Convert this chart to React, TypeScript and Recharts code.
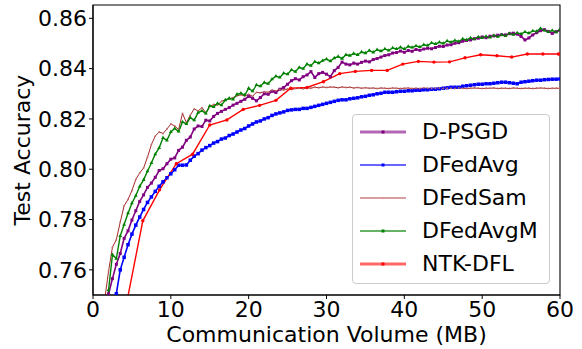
import { LineChart, Line, XAxis, YAxis, Legend, ReferenceArea } from "recharts";

// communication volume (MB) at each logged round
const VOLUME = [
  1.5, 2, 2.5, 3, 3.5, 4, 4.5, 5, 5.5, 6,
  6.5, 7, 7.5, 8, 8.5, 9, 9.5, 10, 10.5, 11,
  11.5, 12, 12.5, 13, 13.5, 14, 14.5, 15, 15.5, 16,
  16.5, 17, 17.5, 18, 18.5, 19, 19.5, 20, 20.5, 21,
  21.5, 22, 22.5, 23, 23.5, 24, 24.5, 25, 25.5, 26,
  26.5, 27, 27.5, 28, 28.5, 29, 29.5, 30, 30.5, 31,
  31.5, 32, 32.5, 33, 33.5, 34, 34.5, 35, 35.5, 36,
  36.5, 37, 37.5, 38, 38.5, 39, 39.5, 40, 40.5, 41,
  41.5, 42, 42.5, 43, 43.5, 44, 44.5, 45, 45.5, 46,
  46.5, 47, 47.5, 48, 48.5, 49, 49.5, 50, 50.5, 51,
  51.5, 52, 52.5, 53, 53.5, 54, 54.5, 55, 55.5, 56,
  56.5, 57, 57.5, 58, 58.5, 59, 59.5, 60,
];

const D_PSGD = [
  0.738, 0.7505, 0.7565, 0.7622, 0.7665, 0.7725, 0.7755, 0.7798, 0.7835, 0.7872,
  0.7898, 0.7928, 0.7945, 0.7968, 0.7995, 0.8002, 0.8022, 0.804, 0.8045, 0.8075,
  0.8088, 0.8115, 0.8128, 0.816, 0.8172, 0.817, 0.8195, 0.8192, 0.821, 0.8222,
  0.823, 0.8238, 0.8245, 0.8255, 0.8262, 0.827, 0.8278, 0.829, 0.8282, 0.8272,
  0.8285, 0.83, 0.8298, 0.831, 0.8305, 0.8318, 0.8325, 0.8338, 0.8352, 0.836,
  0.8355, 0.8368, 0.8375, 0.8388, 0.8365, 0.838, 0.8385, 0.8378, 0.8368, 0.8392,
  0.8405, 0.8426, 0.8418, 0.8415, 0.8422, 0.8418, 0.8425, 0.843, 0.8427, 0.8436,
  0.844, 0.8446, 0.8452, 0.8455, 0.8462, 0.8464, 0.847, 0.8465, 0.8472, 0.8469,
  0.8476, 0.8473, 0.8478, 0.8481, 0.8479, 0.8484, 0.8489, 0.8488, 0.8494, 0.8495,
  0.8501, 0.8503, 0.8509, 0.8512, 0.8514, 0.8519, 0.8521, 0.8526, 0.8523, 0.8529,
  0.853, 0.8533, 0.8535, 0.8534, 0.8539, 0.8541, 0.8537, 0.8528, 0.8514, 0.8522,
  0.8534, 0.8543, 0.8551, 0.8555, 0.8548, 0.854, 0.8547, 0.8553,
];

const DFEDAVG = [
  0.725, 0.732, 0.741, 0.7505, 0.76, 0.765, 0.77, 0.7742, 0.7778, 0.781,
  0.784, 0.7868, 0.789, 0.7912, 0.7932, 0.795, 0.7966, 0.7982, 0.7998, 0.8016,
  0.8016, 0.8017, 0.8036, 0.8052, 0.8062, 0.8076, 0.8086, 0.8094, 0.8104, 0.811,
  0.812, 0.8124, 0.8134, 0.814, 0.8148, 0.8156, 0.8162, 0.8172, 0.818, 0.8188,
  0.8192, 0.82, 0.8205, 0.8214, 0.822, 0.8224, 0.8228, 0.8234, 0.8236, 0.8238,
  0.8238, 0.8242, 0.8242, 0.8246, 0.825, 0.8254, 0.8258, 0.8262, 0.8266, 0.827,
  0.8274, 0.8276, 0.8276, 0.828, 0.8282, 0.8284, 0.8288, 0.829, 0.8294, 0.8296,
  0.83, 0.8302, 0.8306, 0.8306, 0.8306, 0.8308, 0.831, 0.831, 0.8312, 0.8312,
  0.8314, 0.8314, 0.8316, 0.8316, 0.8318, 0.8318, 0.832, 0.8322, 0.8324, 0.8326,
  0.8326, 0.8326, 0.833, 0.8332, 0.8334, 0.8336, 0.8338, 0.8338, 0.834, 0.834,
  0.8342, 0.8344, 0.8346, 0.8346, 0.8344, 0.8342, 0.834, 0.8346, 0.8348, 0.835,
  0.8352, 0.8354, 0.8354, 0.8356, 0.8357, 0.8358, 0.8358, 0.8359,
];

const DFEDSAM = [
  0.748, 0.7595, 0.769, 0.772, 0.779, 0.7855, 0.788, 0.7915, 0.796, 0.7985,
  0.8005, 0.8048, 0.8098, 0.8132, 0.8148, 0.8142, 0.816, 0.818, 0.8172, 0.8158,
  0.8222, 0.8185, 0.8215, 0.824, 0.8232, 0.8245, 0.8225, 0.8248, 0.8258, 0.8255,
  0.827, 0.8276, 0.828, 0.8285, 0.8292, 0.8296, 0.8292, 0.8298, 0.829, 0.8306,
  0.8304, 0.8308, 0.8306, 0.8314, 0.8312, 0.8317, 0.8315, 0.8319, 0.8317, 0.8321,
  0.8322, 0.832, 0.8324, 0.8322, 0.8326, 0.8324, 0.8327, 0.8325, 0.8327, 0.8326,
  0.8324, 0.8327, 0.8325, 0.8326, 0.8323, 0.8325, 0.8322, 0.8324, 0.8322, 0.8323,
  0.8321, 0.8323, 0.8322, 0.8321, 0.8323, 0.8322, 0.8321, 0.8322, 0.8323, 0.8321,
  0.8322, 0.8321, 0.8323, 0.8322, 0.8321, 0.8322, 0.8323, 0.8321, 0.8322, 0.8322,
  0.8321, 0.8323, 0.8322, 0.8321, 0.8322, 0.8323, 0.8322, 0.8321, 0.8322, 0.8322,
  0.8323, 0.8321, 0.8322, 0.8322, 0.8321, 0.8323, 0.8322, 0.8321, 0.8322, 0.8322,
  0.8321, 0.8322, 0.8323, 0.8322, 0.8321, 0.8322, 0.8322, 0.8322,
];

const DFEDAVGM = [
  0.738, 0.752, 0.766, 0.7645, 0.7735, 0.778, 0.7825, 0.7865, 0.7895, 0.7932,
  0.7958, 0.7992, 0.8025, 0.806, 0.8085, 0.8125, 0.8115, 0.8148, 0.8162, 0.815,
  0.8188, 0.818, 0.8205, 0.8195, 0.8225, 0.8232, 0.8222, 0.8252, 0.8248, 0.8262,
  0.8255, 0.8275, 0.8282, 0.8278, 0.8298, 0.8302, 0.8295, 0.8322, 0.831, 0.8335,
  0.833, 0.8345, 0.834, 0.8358, 0.837, 0.8365, 0.8382, 0.8378, 0.8395, 0.8388,
  0.8405, 0.84, 0.8418, 0.8412, 0.8428, 0.8422, 0.8432, 0.8438, 0.843, 0.8442,
  0.8448, 0.844, 0.8455, 0.8452, 0.846, 0.8455, 0.8466, 0.8462, 0.8472, 0.8465,
  0.8475, 0.847, 0.8478, 0.8472, 0.8482, 0.8478, 0.8485, 0.8478, 0.8488, 0.8484,
  0.849, 0.8486, 0.8495, 0.8492, 0.8502, 0.8498, 0.8505, 0.85, 0.851, 0.8505,
  0.8512, 0.8508, 0.8518, 0.8514, 0.8522, 0.8517, 0.8526, 0.8522, 0.8528, 0.8524,
  0.8532, 0.8527, 0.8534, 0.853, 0.854, 0.8535, 0.8542, 0.8538, 0.8546, 0.8541,
  0.855, 0.8548, 0.856, 0.8552, 0.8546, 0.8552, 0.8545, 0.8555,
];

// NTK-DFL is logged less often, so it has its own volume axis
const NTK_VOLUME = [
  4.3, 6.4, 8.55, 10.7, 12.8, 15.0, 17.2, 19.3, 21.4, 23.5,
  25.4, 27.5, 29.6, 31.7, 33.7, 35.8, 37.8, 39.8, 41.8, 43.8,
  45.8, 47.8, 49.8, 51.9, 53.8, 55.8, 57.8, 59.8,
];
const NTK_DFL = [
  0.7465, 0.7795, 0.7918, 0.8022, 0.806, 0.8176, 0.8196, 0.8238, 0.8254, 0.8274,
  0.8322, 0.8325, 0.8348, 0.838, 0.8389, 0.8393, 0.8393, 0.8418, 0.8429, 0.8426,
  0.8427, 0.8443, 0.8455, 0.8451, 0.8446, 0.8458, 0.8458, 0.8458,
];

const X_TICKS = [0, 10, 20, 30, 40, 50, 60];
const Y_TICKS = [0.76, 0.78, 0.8, 0.82, 0.84, 0.86];

const rows = VOLUME.map((v, i) => ({
  v,
  dpsgd: D_PSGD[i],
  dfedavg: DFEDAVG[i],
  dfedsam: DFEDSAM[i],
  dfedavgm: DFEDAVGM[i],
}));
const ntkRows = NTK_VOLUME.map((v, i) => ({ v, ntk: NTK_DFL[i] }));

const FONT = "DejaVu Sans";

type Marker = "square" | "point" | "triangle" | "circle";

// eslint-disable-next-line @typescript-eslint/no-explicit-any
const makeDot = (kind: Marker, fill: string, s: number) => (p: any) => {
  const key = `${kind}-${fill}-${p.index}`;
  if (p.cx == null || p.cy == null) return <g key={key} />;
  const { cx, cy } = p;
  if (kind === "square")
    return <rect key={key} x={cx - s / 2} y={cy - s / 2} width={s} height={s} fill={fill} />;
  if (kind === "triangle")
    return (
      <polygon
        key={key}
        points={`${cx},${cy - s} ${cx - s * 0.87},${cy + s / 2} ${cx + s * 0.87},${cy + s / 2}`}
        fill={fill}
      />
    );
  return <circle key={key} cx={cx} cy={cy} r={s} fill={fill} />;
};

const SERIES = [
  { name: "D-PSGD", color: "#800080", handle: 3, marker: "square" as Marker, ms: 3 },
  { name: "DFedAvg", color: "#0000ff", handle: 1.8, marker: "square" as Marker, ms: 3 },
  { name: "DFedSam", color: "#a52a2a", handle: 1.3, marker: "point" as Marker, ms: 1 },
  { name: "DFedAvgM", color: "#008000", handle: 1.8, marker: "triangle" as Marker, ms: 2 },
  { name: "NTK-DFL", color: "#ff0000", handle: 3, marker: "circle" as Marker, ms: 1.6 },
];

const LegendBox = () => (
  <div
    style={{
      width: 198,
      height: 170,
      boxSizing: "border-box",
      border: "1px solid #cccccc",
      borderRadius: 4,
      background: "rgba(255,255,255,0.8)",
      paddingLeft: 7,
      fontFamily: FONT,
    }}
  >
    {SERIES.map((s) => (
      <div key={s.name} style={{ height: 33, display: "flex", alignItems: "center" }}>
        <svg width={46} height={10} style={{ flexShrink: 0 }}>
          <line x1={0} x2={46} y1={5} y2={5} stroke={s.color} strokeOpacity={0.6} strokeWidth={s.handle} />
          {s.marker === "point" ? (
            <circle cx={23} cy={5} r={1} fill="#e09090" />
          ) : (
            <rect x={21.5} y={3.5} width={3} height={3} fill={s.color} />
          )}
        </svg>
        <span style={{ marginLeft: 16, fontSize: 22, lineHeight: "33px", color: "#000" }}>{s.name}</span>
      </div>
    ))}
  </div>
);

export default function App() {
  return (
    <div style={{ position: "absolute", left: 0, top: 0, fontFamily: FONT, background: "#fff" }}>
      <LineChart
        width={582}
        height={349}
        data={rows}
        margin={{ top: 5, right: 22, bottom: 0, left: 0 }}
        style={{ fontFamily: FONT }}
      >
        <XAxis
          dataKey="v"
          type="number"
          domain={[0, 60]}
          ticks={X_TICKS}
          allowDataOverflow
          height={54}
          tickSize={4}
          tickMargin={2}
          tick={{ fontSize: 22, fill: "#000", fontFamily: FONT }}
          tickLine={{ stroke: "#000" }}
          axisLine={{ stroke: "#000", strokeWidth: 1.1 }}
          label={{ value: "Communication Volume (MB)", position: "insideBottom", offset: 7.5, fontSize: 22, fill: "#000", fontFamily: FONT }}
        />
        <YAxis
          type="number"
          domain={[0.75, 0.8653]}
          ticks={Y_TICKS}
          allowDataOverflow
          width={93}
          tickSize={4}
          tickMargin={2}
          tickFormatter={(t: number) => t.toFixed(2)}
          tick={{ fontSize: 22, fill: "#000", fontFamily: FONT }}
          tickLine={{ stroke: "#000" }}
          axisLine={{ stroke: "#000", strokeWidth: 1.1 }}
          label={{
            value: "Test Accuracy",
            angle: -90,
            position: "insideLeft",
            offset: 22,
            fontSize: 22,
            fill: "#000",
            fontFamily: FONT,
            style: { textAnchor: "middle" },
          }}
        />
        <Line
          dataKey="dpsgd"
          name="D-PSGD"
          type="linear"
          stroke="#800080"
          strokeWidth={1.6}
          dot={makeDot("square", "#800080", 3)}
          activeDot={false}
          isAnimationActive={false}
        />
        <Line
          dataKey="dfedavg"
          name="DFedAvg"
          type="linear"
          stroke="#0000ff"
          strokeWidth={1.6}
          dot={makeDot("square", "#0000ff", 3.5)}
          activeDot={false}
          isAnimationActive={false}
        />
        <Line
          dataKey="dfedsam"
          name="DFedSam"
          type="linear"
          stroke="#a52a2a"
          strokeWidth={1}
          dot={makeDot("point", "#c06a6a", 0.9)}
          activeDot={false}
          isAnimationActive={false}
        />
        <Line
          dataKey="dfedavgm"
          name="DFedAvgM"
          type="linear"
          stroke="#008000"
          strokeWidth={1.4}
          dot={makeDot("triangle", "#008000", 2.2)}
          activeDot={false}
          isAnimationActive={false}
        />
        <Line
          data={ntkRows}
          dataKey="ntk"
          name="NTK-DFL"
          type="linear"
          stroke="#ff0000"
          strokeWidth={1.4}
          dot={makeDot("circle", "#ff0000", 1.7)}
          activeDot={false}
          isAnimationActive={false}
        />
        <ReferenceArea x1={0} x2={60} y1={0.75} y2={0.8653} fill="none" stroke="#000" strokeWidth={1.1} />
        <Legend
          layout="horizontal"
          verticalAlign="middle"
          align="center"
          wrapperStyle={{ left: 352, top: 114, width: 198, height: 170 }}
          content={() => <LegendBox />}
        />
      </LineChart>
    </div>
  );
}
